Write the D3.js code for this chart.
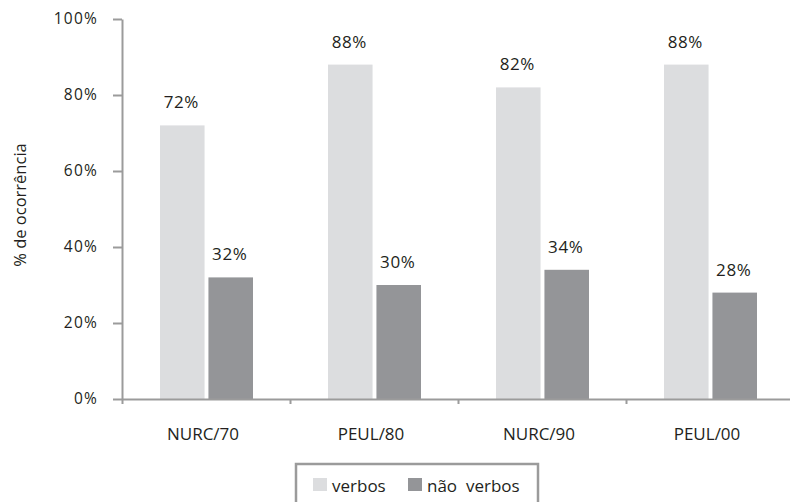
<!DOCTYPE html>
<html>
<head>
<meta charset="utf-8">
<script src="https://cdn.jsdelivr.net/npm/d3@7"></script>
<style>
  html, body { margin: 0; padding: 0; background: #fff; }
  svg { display: block; font-family: "Open Sans", "Noto Sans", sans-serif; }
</style>
</head>
<body>
<svg id="chart" width="790" height="502"></svg>
<script>
// Data
const categories = ["NURC/70", "PEUL/80", "NURC/90", "PEUL/00"];
const verbos = [72, 88, 82, 88];
const naoVerbos = [32, 30, 34, 28];
const yTicks = [0, 20, 40, 60, 80, 100];
const seriesNames = ["verbos", "não  verbos"];
const seriesColors = ["#dcdddf", "#949598"];

const svg = d3.select("#chart");
const axisColor = "#9b9b9b";
const textColor = "#231f20";

// Scales
const x0 = 122, x1 = 794, yTop = 19, yBottom = 399;
const x = d3.scaleBand().domain(categories).range([x0, x1]).padding(0);
const xEdge = d3.scaleLinear().domain([0, categories.length]).range([x0, x1]);
const xSub = d3.scaleBand().domain([0, 1]).range([38, 131]).paddingInner(0.08);
const y = d3.scaleLinear().domain([0, 100]).range([yBottom, yTop]);

// Bars with value labels
const series = [verbos, naoVerbos];
series.forEach((vals, si) => {
  const g = svg.append("g");
  g.selectAll("rect").data(categories).join("rect")
    .attr("x", (d) => x(d) + xSub(si))
    .attr("y", (d, i) => y(vals[i]))
    .attr("width", xSub.bandwidth())
    .attr("height", (d, i) => y(0) - y(vals[i]))
    .attr("fill", seriesColors[si]);
  g.selectAll("text").data(categories).join("text")
    .attr("x", (d) => x(d) + xSub(si) + xSub.bandwidth() / 2 - 1)
    .attr("y", (d, i) => y(vals[i]) - 17)
    .attr("text-anchor", "middle")
    .attr("font-size", 17)
    .attr("letter-spacing", 0.6)
    .attr("fill", textColor)
    .text((d, i) => vals[i] + "%");
});

// Y axis
const yAxis = svg.append("g")
  .attr("transform", `translate(${x0},0)`)
  .call(d3.axisLeft(y).tickValues(yTicks).tickSize(9).tickSizeOuter(0)
    .tickPadding(15).tickFormat((d) => d + "%"));
yAxis.selectAll("path, line").attr("stroke", axisColor).attr("stroke-width", 2);
yAxis.selectAll("text")
  .attr("font-size", 15.5)
  .attr("letter-spacing", 1.2)
  .attr("font-family", "'Open Sans', sans-serif")
  .attr("fill", textColor);

// X axis (ticks at category boundaries)
const xAxis = svg.append("g")
  .attr("transform", `translate(0,${yBottom})`)
  .call(d3.axisBottom(xEdge).tickValues(d3.range(0, categories.length + 1))
    .tickSize(5).tickSizeOuter(0).tickFormat(""));
xAxis.selectAll("path, line").attr("stroke", axisColor).attr("stroke-width", 2);

// Category labels
svg.append("g").selectAll("text").data(categories).join("text")
  .attr("x", (d) => x(d) + x.bandwidth() / 2 - 3)
  .attr("y", 440)
  .attr("text-anchor", "middle")
  .attr("font-size", 17)
  .attr("fill", textColor)
  .text((d) => d);

// Y axis title
svg.append("text")
  .attr("transform", "translate(26,205) rotate(-90)")
  .attr("text-anchor", "middle")
  .attr("font-size", 16.5)
  .attr("fill", textColor)
  .text("% de ocorrência");

// Legend
const legend = svg.append("g").attr("transform", "translate(296,464)");
legend.append("rect")
  .attr("x", 0).attr("y", 0).attr("width", 242).attr("height", 50)
  .attr("fill", "none").attr("stroke", axisColor).attr("stroke-width", 2.5);
const legendX = [17, 112];
seriesNames.forEach((name, i) => {
  legend.append("rect")
    .attr("x", legendX[i]).attr("y", 14).attr("width", 14).attr("height", 13)
    .attr("fill", seriesColors[i]);
  legend.append("text")
    .attr("x", legendX[i] + 19).attr("y", 27.5)
    .attr("font-size", 17)
    .attr("fill", textColor)
    .style("white-space", "pre")
    .text(name);
});
</script>
</body>
</html>
